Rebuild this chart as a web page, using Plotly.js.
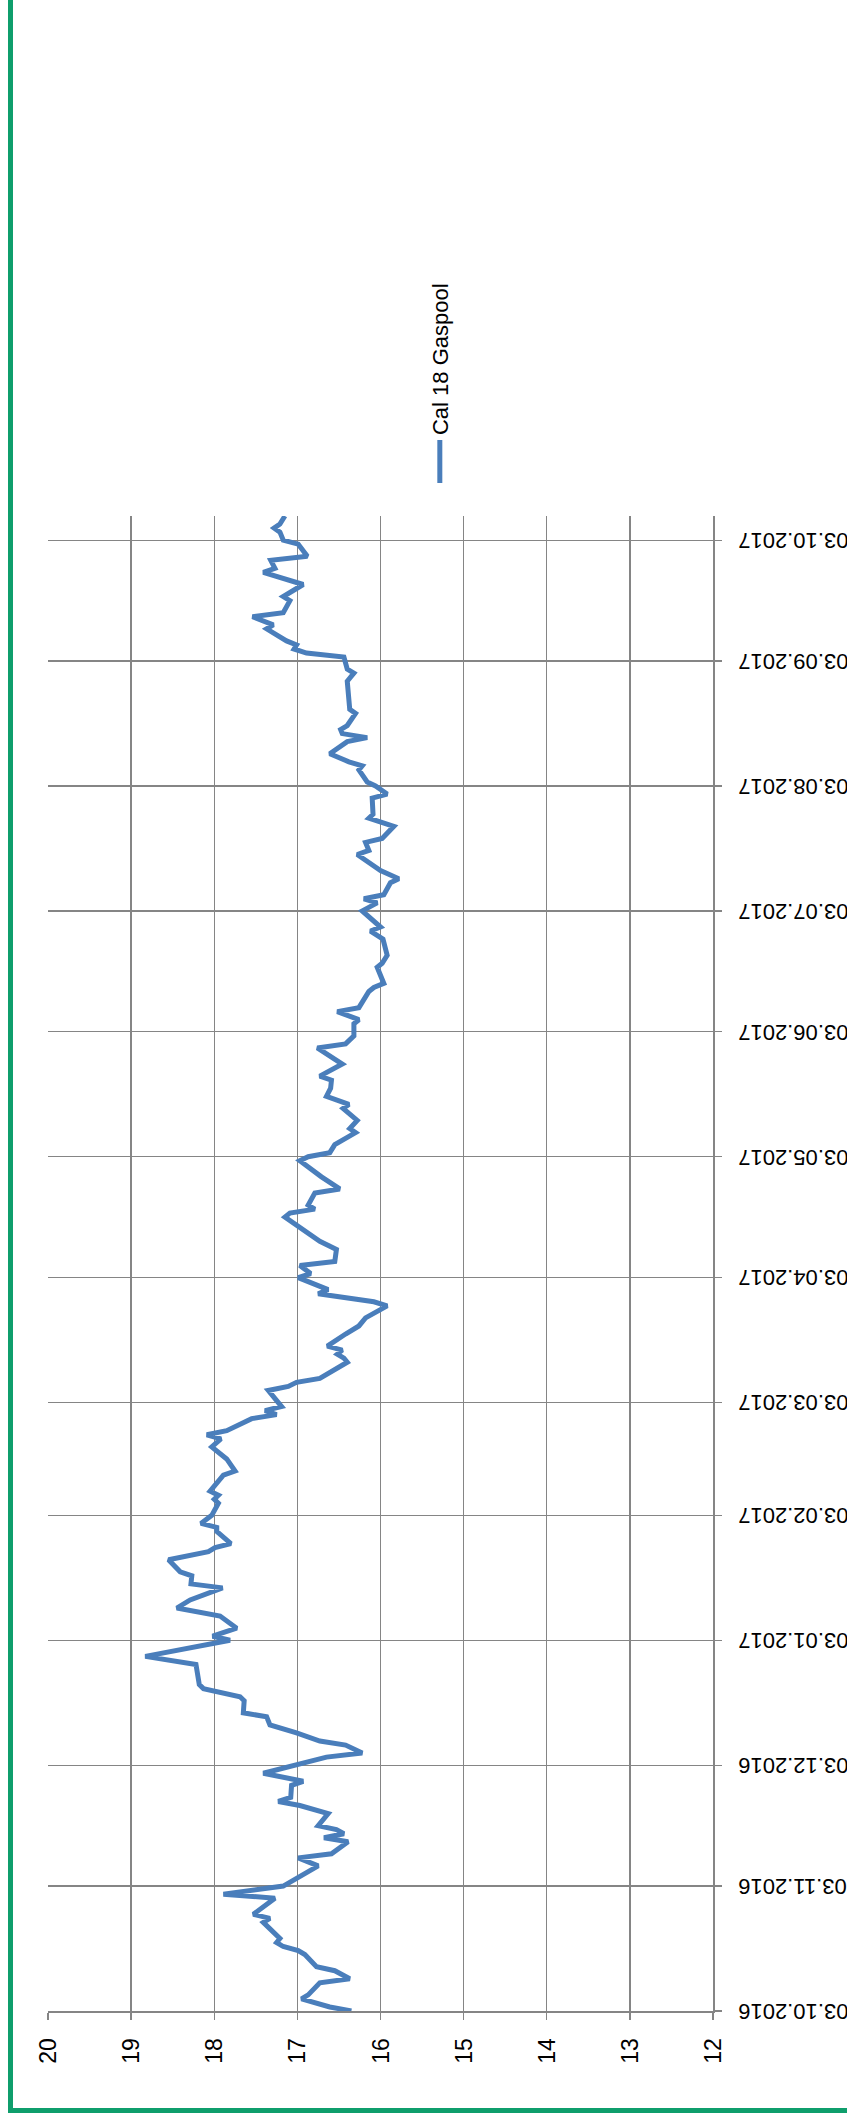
<!DOCTYPE html>
<html>
<head>
<meta charset="utf-8">
<script src="https://cdn.plot.ly/plotly-3.0.1.min.js"></script>
<style>
  html, body { margin: 0; padding: 0; background: #ffffff; }
  #screen { position: relative; width: 847px; height: 2121px; overflow: hidden; background: #ffffff; }
  #frame { position: absolute; left: 8px; top: -20px; width: 900px; height: 2133px;
           border-left: 5px solid #0f9e6c; border-bottom: 5px solid #0f9e6c; box-sizing: border-box; }
  #chart { position: absolute; left: 0; top: 0; width: 2121px; height: 847px;
           transform-origin: 0 0; transform: translate(0px, 2121px) rotate(-90deg); }
</style>
</head>
<body>
<div id="screen">
  <div id="frame"></div>
  <div id="chart"></div>
</div>
<script>
// Series: Cal 18 Gaspool
const dates = [
  '2016-10-03','2016-10-04','2016-10-06','2016-10-07','2016-10-10','2016-10-11','2016-10-13','2016-10-14',
  '2016-10-17','2016-10-18','2016-10-19','2016-10-20','2016-10-21','2016-10-23','2016-10-25','2016-10-26',
  '2016-10-27','2016-10-31','2016-11-01','2016-11-03','2016-11-05','2016-11-08','2016-11-10','2016-11-11',
  '2016-11-14','2016-11-15','2016-11-16','2016-11-17','2016-11-18','2016-11-21','2016-11-23','2016-11-24',
  '2016-11-25','2016-11-28','2016-11-29','2016-12-01','2016-12-05','2016-12-06','2016-12-08','2016-12-09',
  '2016-12-11','2016-12-13','2016-12-15','2016-12-16','2016-12-19','2016-12-20','2016-12-22','2016-12-23',
  '2016-12-28','2016-12-30','2017-01-03','2017-01-04','2017-01-06','2017-01-09','2017-01-11','2017-01-13',
  '2017-01-16','2017-01-17','2017-01-19','2017-01-20','2017-01-23','2017-01-25','2017-01-26','2017-01-27',
  '2017-01-30','2017-01-31','2017-02-01','2017-02-03','2017-02-06','2017-02-07','2017-02-08','2017-02-09',
  '2017-02-13','2017-02-14','2017-02-17','2017-02-20','2017-02-22','2017-02-23','2017-02-24','2017-02-27',
  '2017-02-28','2017-03-01','2017-03-02','2017-03-06','2017-03-07','2017-03-08','2017-03-09','2017-03-13',
  '2017-03-14','2017-03-15','2017-03-16','2017-03-17','2017-03-20','2017-03-22','2017-03-24','2017-03-27',
  '2017-03-28','2017-03-30','2017-03-31','2017-04-03','2017-04-04','2017-04-06','2017-04-07','2017-04-10',
  '2017-04-12','2017-04-18','2017-04-19','2017-04-20','2017-04-21','2017-04-24','2017-04-25','2017-04-28',
  '2017-05-02','2017-05-03','2017-05-04','2017-05-06','2017-05-09','2017-05-10','2017-05-12','2017-05-15',
  '2017-05-16','2017-05-18','2017-05-20','2017-05-22','2017-05-23','2017-05-26','2017-05-30','2017-05-31',
  '2017-06-02','2017-06-05','2017-06-06','2017-06-08','2017-06-09','2017-06-13','2017-06-14','2017-06-15',
  '2017-06-19','2017-06-20','2017-06-22','2017-06-26','2017-06-28','2017-06-29','2017-07-03','2017-07-05',
  '2017-07-06','2017-07-07','2017-07-10','2017-07-11','2017-07-13','2017-07-17','2017-07-18','2017-07-20',
  '2017-07-21','2017-07-24','2017-07-26','2017-07-27','2017-07-31','2017-08-01','2017-08-03','2017-08-04',
  '2017-08-07','2017-08-08','2017-08-09','2017-08-11','2017-08-14','2017-08-15','2017-08-16','2017-08-17',
  '2017-08-18','2017-08-21','2017-08-22','2017-08-24','2017-08-29','2017-08-31','2017-09-01','2017-09-04',
  '2017-09-05','2017-09-06','2017-09-07','2017-09-08','2017-09-11','2017-09-12','2017-09-14','2017-09-15',
  '2017-09-18','2017-09-19','2017-09-22','2017-09-25','2017-09-26','2017-09-28','2017-09-29','2017-10-02',
  '2017-10-03','2017-10-05','2017-10-06','2017-10-07','2017-10-09'
];
const prices = [
  16.35,16.61,16.95,16.87,16.73,16.37,16.55,16.77,
  16.91,16.99,17.17,17.25,17.21,17.31,17.41,17.33,
  17.53,17.27,17.89,17.17,16.99,16.75,16.99,16.59,
  16.39,16.68,16.44,16.53,16.75,16.63,16.97,17.23,
  17.08,17.07,16.93,17.41,16.65,16.22,16.42,16.73,
  17.01,17.33,17.37,17.65,17.64,17.69,18.13,18.18,
  18.22,18.83,17.81,18.02,17.73,17.93,18.45,18.29,
  17.90,18.28,18.27,18.41,18.55,18.07,17.99,17.80,
  17.97,17.97,18.16,18.03,17.95,18.00,17.95,18.05,
  17.89,17.75,17.85,18.03,17.92,18.09,17.85,17.55,
  17.25,17.39,17.19,17.35,17.11,17.01,16.73,16.40,
  16.44,16.52,16.46,16.64,16.42,16.26,16.18,15.92,
  16.08,16.75,16.63,16.99,16.84,16.97,16.55,16.53,
  16.73,17.15,17.09,16.79,16.87,16.79,16.49,16.71,
  16.97,16.87,16.61,16.55,16.30,16.37,16.28,16.45,
  16.38,16.65,16.60,16.59,16.73,16.46,16.76,16.42,
  16.32,16.32,16.26,16.52,16.26,16.14,16.08,15.96,
  16.04,15.98,15.92,15.97,16.12,16.00,16.22,16.04,
  16.20,15.96,15.88,15.78,16.00,16.28,16.14,16.18,
  15.98,15.84,16.14,16.09,16.10,15.92,16.06,16.16,
  16.26,16.22,16.38,16.61,16.40,16.16,16.46,16.48,
  16.40,16.30,16.37,16.38,16.40,16.32,16.40,16.44,
  16.89,17.04,17.01,17.13,17.37,17.29,17.54,17.17,
  17.09,17.17,16.93,17.41,17.27,17.32,16.88,16.99,
  17.17,17.21,17.28,17.21,17.15
];
const seriesName = 'Cal 18 Gaspool';
const monthTickVals = ['2016-10-03','2016-11-03','2016-12-03','2017-01-03','2017-02-03','2017-03-03',
  '2017-04-03','2017-05-03','2017-06-03','2017-07-03','2017-08-03','2017-09-03','2017-10-03'];
const monthTickText = ['03.10.2016','03.11.2016','03.12.2016','03.01.2017','03.02.2017','03.03.2017',
  '03.04.2017','03.05.2017','03.06.2017','03.07.2017','03.08.2017','03.09.2017','03.10.2017'];
const valueTicks = [12,13,14,15,16,17,18,19,20];
const dateRange = ['2016-10-03','2017-10-09'];
const valueRange = [12, 20];

const FONT = 'Liberation Sans, Arial, sans-serif';
const GRID = '#858585';

const trace = {
  type: 'scatter', mode: 'lines', name: seriesName,
  x: dates, y: prices,
  line: { color: '#4a7ebb', width: 5, shape: 'linear' },
  hoverinfo: 'skip'
};

const layout = {
  width: 2121, height: 847,
  margin: { l: 110, r: 516, t: 48, b: 134, pad: 0 },
  paper_bgcolor: 'rgba(0,0,0,0)', plot_bgcolor: 'rgba(0,0,0,0)',
  font: { family: FONT, size: 22, color: '#000000' },
  showlegend: true,
  legend: {
    x: 1.0187, xanchor: 'left', y: 0.4105, yanchor: 'middle',
    itemwidth: 43,
    font: { family: FONT, size: 22, color: '#000000' },
    bgcolor: 'rgba(0,0,0,0)', borderwidth: 0
  },
  xaxis: {
    type: 'date', range: dateRange,
    tickmode: 'array', tickvals: monthTickVals, ticktext: monthTickText,
    tickangle: -90, ticks: 'outside', ticklen: 7, tickwidth: 1.3, tickcolor: GRID,
    ticklabelstandoff: 8,
    showgrid: true, gridcolor: GRID, gridwidth: 1.3,
    showline: true, linecolor: GRID, linewidth: 1.5,
    zeroline: false, mirror: false,
    tickfont: { family: FONT, size: 22, color: '#000000' }
  },
  yaxis: {
    range: valueRange, tickmode: 'array', tickvals: valueTicks,
    ticks: 'outside', ticklen: 7, tickwidth: 1.3, tickcolor: GRID,
    ticklabelstandoff: 14,
    showgrid: true, gridcolor: GRID, gridwidth: 1.3,
    showline: true, linecolor: GRID, linewidth: 1.5,
    zeroline: false, mirror: false,
    tickfont: { family: FONT, size: 23, color: '#000000' }
  }
};

Plotly.newPlot('chart', [trace], layout, { staticPlot: true, displayModeBar: false, responsive: false });
</script>
</body>
</html>
